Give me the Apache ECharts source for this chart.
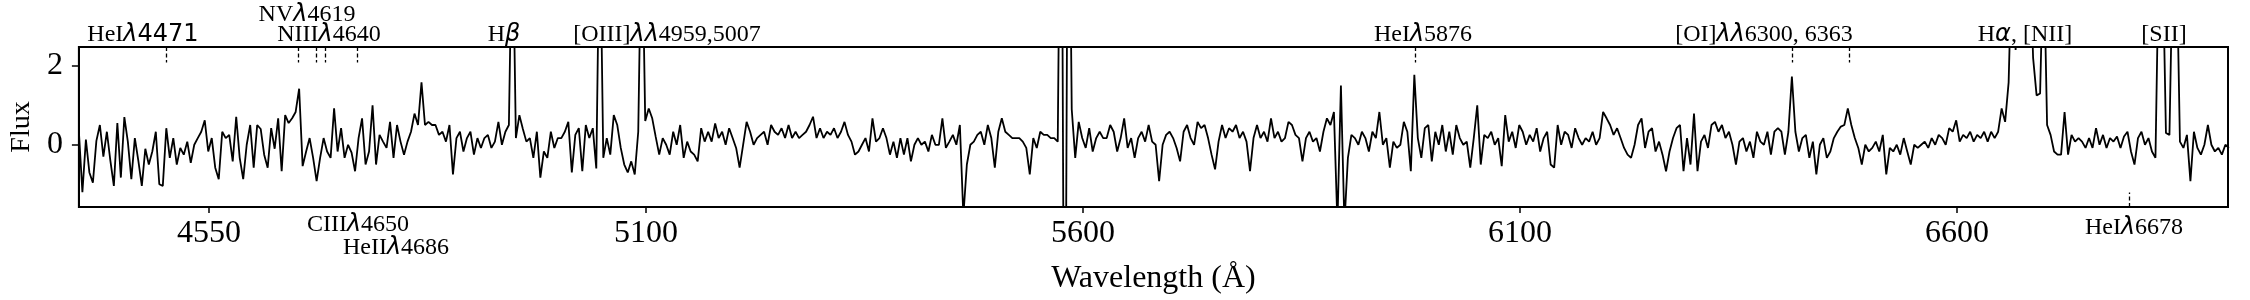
<!DOCTYPE html>
<html>
<head>
<meta charset="utf-8">
<title>Spectrum</title>
<script src="https://cdn.jsdelivr.net/npm/echarts@6/dist/echarts.min.js"></script>
<style>
  html, body { margin: 0; padding: 0; background: #fff; }
  #chart { width: 2250px; height: 300px; }
</style>
</head>
<body>
<div id="chart"></div>
<script>
// wavelength grid of the spectrum (first sample and spacing, in axis units)
const waveStart = 4451
const waveStep = 4

// flux, one value per grid step
const flux = [
  0.33, -1.2, 0.13, -0.7, -0.96, 0.1, 0.5, -0.3, 0.33, -0.4,        // 0
  -1.04, 0.55, -0.83, 0.7, 0.08, -0.87, 0.17, -0.4, -1.04, -0.1,    // 10
  -0.5, -0.17, 0.33, -1.0, -1.04, 0.42, -0.33, 0.17, -0.5, -0.08,   // 20
  -0.25, 0.08, -0.46, 0, 0.17, 0.33, 0.62, -0.17, 0.17, -0.58,      // 30
  -0.87, 0.33, 0.17, 0.25, -0.42, 0.71, -0.33, -0.87, 0, 0.5,       // 40
  -0.58, 0.5, 0.4, -0.25, -0.58, 0.42, -0.1, 0.67, -0.67, 0.75,     // 50
  0.55, 0.67, 0.83, 1.42, -0.54, -0.17, 0.17, -0.33, -0.92, -0.33,  // 60
  0.17, -0.17, -0.33, 0.92, -0.17, 0.42, -0.33, 0, -0.2, -0.67,     // 70
  0.17, 0.67, -0.5, -0.17, 1.0, -0.5, 0.25, 0.08, -0.08, 0.58,      // 80
  -0.33, 0.5, 0.08, -0.25, 0.08, 0.33, 0.79, 0.5, 1.58, 0.5,        // 90
  0.58, 0.5, 0.5, 0.25, 0.33, 0.08, 0.5, -0.75, 0.17, 0.33,         // 100
  -0.17, 0.17, 0.33, -0.25, 0.17, -0.08, 0.17, 0.25, -0.08, 0.08,   // 110
  0.58, 0, 0.33, 0.5, 6, 0.17, 0.75, 0.4, 0.08, 0.17,               // 120 H beta
  -0.33, 0.33, -0.83, -0.17, -0.33, 0.33, -0.08, 0.17, 0.17, 0.33,  // 130
  0.58, -0.7, 0.25, 0.42, -0.67, 0.5, 0.17, 0.42, -0.6, 6,          // 140 [OIII] 4959
  -0.33, 0.17, -0.25, 0.75, 0.5, -0.08, -0.5, -0.7, -0.42, -0.75,   // 150
  0.33, 6, 0.6, 0.92, 0.67, 0.2, -0.25, 0.17, 0, -0.25,             // 160 [OIII] 5007
  0.33, 0, 0.5, -0.33, 0.08, -0.17, -0.25, -0.42, 0.42, 0.08,       // 170
  0.33, 0.08, 0.54, 0.17, 0.33, 0, 0.42, 0.17, -0.08, -0.58,        // 180
  0, 0.58, 0.33, 0, 0.17, 0.25, 0.33, 0, 0.5, 0.33,                 // 190
  0.25, 0.42, 0.17, 0.5, 0.17, 0.33, 0.17, 0.25, 0.33, 0.5,         // 200
  0.71, 0.17, 0.42, 0.17, 0.33, 0.25, 0.42, 0.17, 0.33, 0.58,       // 210
  0.25, 0.08, -0.25, -0.17, 0, 0.17, -0.17, 0.67, 0.08, 0.17,       // 220
  0.42, 0.17, -0.25, 0.08, -0.33, 0.17, -0.25, 0.17, -0.42, 0,      // 230
  0.17, 0, 0.08, -0.17, 0.25, 0, 0, 0.67, -0.08, 0.08,              // 240
  0.25, 0, 0.5, -1.8, -0.5, 0, 0.08, 0.25, 0.33, 0,                 // 250
  0.5, 0.17, -0.58, 0.33, 0.67, 0.33, 0.25, 0.17, 0.17, 0.17,       // 260
  0.08, -0.08, -0.75, 0.17, -0.08, 0.33, 0.25, 0.25, 0.17, 0.17,    // 270
  0.08, 10, -10, 10, 0.9, -0.33, 0.58, 0.17, -0.08, 0.42,           // 280 sky 5577
  -0.17, 0.17, 0.33, 0.17, 0.17, 0.5, 0.33, -0.17, 0.17, 0.67,      // 290
  -0.08, 0.17, -0.33, 0.17, 0.33, 0.08, 0.5, 0.08, 0, -0.92,        // 300
  0, 0.25, 0.33, 0.17, -0.08, -0.42, 0.33, 0.5, 0.17, 0,            // 310
  0.58, 0.42, 0.5, 0.17, -0.25, -0.62, 0.08, 0.5, 0.17, 0.42,       // 320
  0.33, 0.5, 0.17, 0.33, 0.08, -0.67, 0.17, 0.5, 0.17, 0.33,        // 330
  0.08, 0.67, 0.17, 0.33, 0.08, 0.17, 0.58, 0.5, 0.25, 0.17,        // 340
  -0.42, 0.17, 0.33, 0.08, 0.17, -0.17, 0.33, 0.67, 0.5, 0.83,      // 350
  -2, 1.5, -2, -0.33, 0.25, 0.17, 0, 0.33, 0.17, -0.17,             // 360 Na D
  0.33, 0.17, 0.83, 0, 0.17, -0.58, 0.08, -0.08, 0, 0.58,           // 370
  0.33, -0.67, 1.77, 0.17, -0.33, 0.42, 0.5, -0.42, 0.33, 0,        // 380 HeI 5876
  0.5, -0.17, 0.33, -0.25, 0.5, 0.17, 0, 0.08, -0.58, 0.17,         // 390
  1.0, -0.5, 0.25, 0.17, 0.33, 0, 0.17, -0.54, 0.75, 0.08,          // 400
  0.33, -0.08, 0.5, 0.33, 0, 0.25, 0.08, 0.42, -0.17, 0.17,         // 410
  0.33, -0.5, -0.58, 0.5, 0, 0.33, 0.25, -0.08, 0.42, 0.17,         // 420
  0, 0.17, 0.08, 0.33, 0, 0.17, 0.83, 0.67, 0.5, 0.25,              // 430
  0.42, 0.17, -0.08, -0.25, -0.33, 0, 0.5, 0.67, -0.08, 0.33,       // 440
  0.42, -0.17, 0.08, -0.25, -0.67, -0.17, 0.17, 0.42, 0.5, -0.67,   // 450
  0.17, -0.5, 0.79, -0.67, 0.08, 0.25, -0.08, 0.5, 0.58, 0.33,      // 460
  0.5, 0.17, 0.33, 0, -0.5, 0.08, 0.17, -0.17, 0.08, -0.33,         // 470
  0.33, 0.08, 0, 0.33, -0.25, 0.33, 0.42, 0.33, -0.25, 0.33,        // 480
  1.73, 0.33, -0.17, 0.17, 0.25, -0.33, 0.08, -0.75, 0, 0.17,       // 490 [OI] 6300
  -0.33, -0.17, 0.17, 0.33, 0.46, 0.5, 0.92, 0.5, 0.17, -0.08,      // 500
  -0.5, 0, -0.17, -0.08, 0.08, -0.17, 0.25, -0.75, -0.08, -0.17,    // 510
  0, -0.25, 0.17, -0.17, -0.5, 0, -0.08, 0, 0.08, -0.08,            // 520
  0.17, 0, 0.25, 0.17, 0, 0.42, 0.33, 0.62, 0.08, 0.25,             // 530
  0.17, 0.33, 0.08, 0.25, 0.17, 0.33, 0.08, 0.33, 0.17, 0.33,       // 540
  0.92, 0.58, 1.58, 5, 2.4, 5, 5, 5, 5, 2.2,                        // 550 H alpha
  1.25, 1.3, 5, 0.5, 0.25, -0.17, -0.25, -0.25, 0.83, -0.25,        // 560
  0.25, 0.08, 0.17, 0.08, -0.08, 0.17, -0.08, 0.42, 0, 0.25,        // 570
  -0.08, 0.17, 0.08, 0.21, -0.08, 0.21, 0.33, -0.17, -0.5, 0.17,    // 580
  0.33, 0, 0.17, -0.17, -0.33, 5, 5, 0.3, 0.25, 5,                  // 590 [SII]
  5, 0.08, -0.08, 0.25, -0.92, 0.33, -0.08, -0.25, 0, 0.5,          // 600
  0, -0.17, -0.08, -0.25, 0, -0.08                                  // 610
]

// x axis: tick positions and the labels printed under them
const xTickValues = [4600, 5100, 5600, 6100, 6600]
const xTickLabels = ['4550', '5100', '5600', '6100', '6600']
const yTickValues = [0, 2]

// line identification marks (dashed stubs)
const topMarkWaves = [4550.5, 4701.7, 4722.9, 4732.6, 4769.6, 5980.2, 6411.4, 6476.8]
const bottomMarkWaves = [6796.6]

const xMin = 4451
const xMax = 6910
const yMin = -1.575
const yMax = 2.475

const serif = '"Liberation Serif", "Times New Roman", serif'

// annotation texts (rich tokens: g = greek, m = math digits)
const notes = [
  { text: 'HeI{g|λ}{m|4471}', x: 143, y: 35 },
  { text: 'NV{g|λ}4619', x: 307, y: 15 },
  { text: 'NIII{g|λ}4640', x: 329, y: 35 },
  { text: 'H{g|β}', x: 504, y: 35 },
  { text: '[OIII]{g|λλ}4959,5007', x: 667, y: 35 },
  { text: 'HeI{g|λ}5876', x: 1423, y: 35 },
  { text: '[OI]{g|λλ}6300, 6363', x: 1764, y: 35 },
  { text: 'H{g|α}, [NII]', x: 2025, y: 35 },
  { text: '[SII]', x: 2164, y: 35 },
  { text: 'CIII{g|λ}4650', x: 358, y: 225 },
  { text: 'HeII{g|λ}4686', x: 396, y: 248 },
  { text: 'HeI{g|λ}6678', x: 2134, y: 228 }
]

const chart = echarts.init(document.getElementById('chart'))

const seriesData = flux.map((f, i) => [waveStart + i * waveStep, f])

const markData = []
topMarkWaves.forEach(w => {
  markData.push([{ coord: [w, yMax] }, { coord: [w, 2.08] }])
})
bottomMarkWaves.forEach(w => {
  markData.push([{ coord: [w, yMin] }, { coord: [w, -1.21] }])
})

const option = {
  backgroundColor: '#fff',
  animation: false,
  grid: {
    left: 68, right: 22, top: 47, bottom: 90,
    show: true, borderColor: '#000', borderWidth: 2
  },
  xAxis: {
    type: 'value',
    min: xMin,
    max: xMax,
    name: 'Wavelength (Å)',
    nameLocation: 'middle',
    nameGap: 56,
    nameTextStyle: { fontFamily: serif, fontSize: 32, color: '#000' },
    axisLine: { show: true, onZero: false, lineStyle: { color: '#000', width: 2 } },
    axisTick: { show: true, customValues: xTickValues, length: 6, lineStyle: { color: '#000', width: 1.5 } },
    axisLabel: {
      customValues: xTickValues,
      formatter: v => {
        const k = xTickValues.indexOf(v)
        return k >= 0 ? xTickLabels[k] : ''
      },
      fontFamily: serif, fontSize: 32, color: '#000', margin: 11
    },
    splitLine: { show: false }
  },
  yAxis: {
    type: 'value',
    min: yMin,
    max: yMax,
    name: 'Flux',
    nameLocation: 'middle',
    nameGap: 40,
    nameTextStyle: { fontFamily: serif, fontSize: 28, color: '#000' },
    axisLine: { show: true, onZero: false, lineStyle: { color: '#000', width: 2 } },
    axisTick: { show: true, customValues: yTickValues, length: 7, lineStyle: { color: '#000', width: 1.5 } },
    axisLabel: {
      customValues: yTickValues,
      fontFamily: serif, fontSize: 32, color: '#000', margin: 16
    },
    splitLine: { show: false }
  },
  series: [{
    type: 'line',
    data: seriesData,
    showSymbol: false,
    symbol: 'none',
    clip: true,
    lineStyle: { color: '#000', width: 1.8 },
    markLine: {
      silent: true,
      symbol: ['none', 'none'],
      label: { show: false },
      lineStyle: { color: '#000', width: 1.3, type: [4, 2.5] },
      data: markData
    }
  }],
  graphic: notes.map(n => ({
    type: 'text',
    x: n.x,
    y: n.y,
    silent: true,
    style: {
      text: n.text,
      font: '24px ' + serif,
      fill: '#000',
      align: 'center',
      verticalAlign: 'middle',
      textAlign: 'center',
      textVerticalAlign: 'middle',
      rich: {
        g: { fontFamily: 'DejaVu Sans', fontStyle: 'italic', fontSize: 24, fill: '#000' },
        m: { fontFamily: 'DejaVu Sans', fontSize: 24, fill: '#000' }
      }
    }
  }))
}

chart.setOption(option)
</script>
</body>
</html>
